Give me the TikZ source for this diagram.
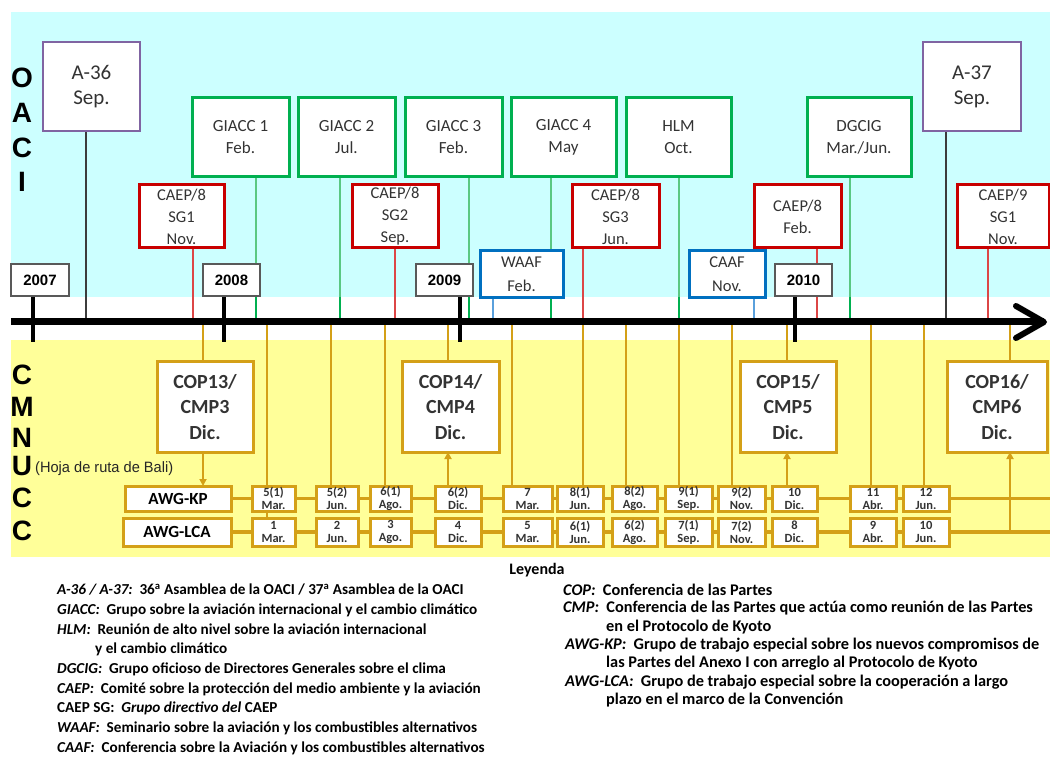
\documentclass[tikz,border=0pt]{standalone}
\usepackage{fontspec}
\setmainfont{Carlito}
\newfontfamily\arialf{Liberation Sans}
\usetikzlibrary{arrows.meta}
\definecolor{cyanbg}{RGB}{204,255,255}
\definecolor{yelbg}{RGB}{255,255,153}
\definecolor{purp}{RGB}{128,100,162}
\definecolor{grn}{RGB}{0,176,80}
\definecolor{lgrn}{RGB}{90,200,130}
\definecolor{rd}{RGB}{200,0,0}
\definecolor{lrd}{RGB}{220,70,70}
\definecolor{blu}{RGB}{0,112,192}
\definecolor{lblu}{RGB}{90,160,220}
\definecolor{lblk}{RGB}{60,60,60}
\definecolor{gold}{RGB}{212,160,23}
\pgfdeclarelayer{bg}
\pgfsetlayers{bg,main}
\tikzset{
 ev/.style={rectangle, fill=white, inner sep=1pt, outer sep=0pt, align=center, text=black!80},
 pbox/.style={ev, draw=purp, line width=2.5pt, font=\fontsize{21}{25}\selectfont},
 gbox/.style={ev, draw=grn, line width=3pt, font=\fontsize{17}{22}\selectfont},
 rbox/.style={ev, draw=rd, line width=3pt, font=\fontsize{16.5}{22}\selectfont},
 bbox/.style={ev, draw=blu, line width=3pt, font=\fontsize{16.5}{24}\selectfont},
 ybox/.style={ev, draw=black!65, line width=1.8pt, font=\arialf\bfseries\fontsize{15}{18}\selectfont, text=black},
 cbox/.style={ev, draw=gold, line width=3pt, font=\bfseries\fontsize{20}{25.5}\selectfont},
 abox/.style={ev, draw=gold, line width=3pt, font=\bfseries\fontsize{17}{20}\selectfont, text=black},
 sbox/.style={ev, draw=gold, line width=3pt, inner sep=0pt, font=\bfseries\fontsize{12.5}{13}\selectfont},
 big/.style={font=\arialf\bfseries\fontsize{28}{28}\selectfont, inner sep=0pt},
 legl/.style={anchor=west, inner sep=0pt, font=\bfseries\fontsize{15.2}{17}\selectfont},
 legr/.style={anchor=west, inner sep=0pt, font=\bfseries\fontsize{16.3}{18}\selectfont},
 leadln/.style={draw=#1, line width=1.3pt},
 tickmk/.style={draw=#1, line width=2.6pt},
 goldln/.style={draw=gold, line width=1.5pt},
 rowln/.style={draw=gold, line width=3.5pt},
 garrow/.style={draw=gold, line width=1.8pt, -{Triangle[length=7pt,width=7pt]}},
}
\newcommand\ebox[7]{\node[#1, anchor=north west, minimum width={#5-#3}, minimum height={#6-#4}] (#2) at (#3,#4) {#7};}
\begin{document}
\begin{tikzpicture}[x=1pt,y=-1pt]
\useasboundingbox (0,0) rectangle (1050,759);
\begin{pgfonlayer}{bg}
\fill[white] (0,0) rectangle (1050,759);
\fill[cyanbg] (11,12) rectangle (1050,297);
\fill[yelbg] (11,340) rectangle (1050,557);
\end{pgfonlayer}
% side letters
\foreach \l/\y [count=\i] in {O/78,A/113,C/148,I/182}
  \node[big] (oaci\i) at (22,\y) {\l};
\foreach \l/\y [count=\i] in {C/375,M/407,N/438,U/466,C/498,C/531}
  \node[big] (cm\i) at (22,\y) {\l};
\node[anchor=west, inner sep=0pt, font=\arialf\fontsize{15}{15}\selectfont, text=black!85] (bali) at (35,469) {\resizebox{138pt}{\height}{(Hoja de ruta de Bali)}};
% OACI boxes
\ebox{pbox}{a36}{43}{42}{140}{131}{A-36\\Sep.}
\ebox{pbox}{a37}{923}{42}{1021}{131}{A-37\\Sep.}
\ebox{gbox}{g1}{192}{98}{289}{177}{GIACC 1\\Feb.}
\ebox{gbox}{g2}{298}{98}{395}{177}{GIACC 2\\Jul.}
\ebox{gbox}{g3}{405}{98}{502}{177}{GIACC 3\\Feb.}
\ebox{gbox}{g4}{511}{98}{616}{177}{GIACC 4\\May}
\ebox{gbox}{hlm}{626}{98}{731}{177}{HLM\\Oct.}
\ebox{gbox}{dg}{807}{98}{911}{177}{DGCIG\\Mar./Jun.}
\ebox{rbox}{c1}{139}{185}{224}{248}{CAEP/8\\SG1\\Nov.}
\ebox{rbox}{c2}{352}{185}{438}{248}{CAEP/8\\SG2\\Sep.}
\ebox{rbox}{c3}{572}{185}{659}{248}{CAEP/8\\SG3\\Jun.}
\ebox{rbox}{c4}{754}{185}{841}{248}{CAEP/8\\Feb.}
\ebox{rbox}{c5}{957}{185}{1049}{248}{CAEP/9\\SG1\\Nov.}
\ebox{bbox}{waaf}{480}{251}{563}{298}{WAAF\\Feb.}
\ebox{bbox}{caaf}{689}{251}{765}{298}{CAAF\\Nov.}
\ebox{ybox}{y7}{11}{264}{69}{296}{2007}
\ebox{ybox}{y8}{203}{264}{260}{296}{2008}
\ebox{ybox}{y9}{416}{264}{473}{296}{2009}
\ebox{ybox}{y10}{775}{264}{832}{296}{2010}
% CMNUCC boxes
\ebox{cbox}{cop13}{157}{362}{253}{452}{COP13/\\CMP3\\Dic.}
\ebox{cbox}{cop14}{402}{362}{499}{452}{COP14/\\CMP4\\Dic.}
\ebox{cbox}{cop15}{740}{362}{836}{452}{COP15/\\CMP5\\Dic.}
\ebox{cbox}{cop16}{947}{362}{1047}{452}{COP16/\\CMP6\\Dic.}
\ebox{abox}{kp}{125}{486}{231}{511}{AWG-KP}
\ebox{abox}{lca}{123}{518}{231}{546}{AWG-LCA}
\foreach \a/\b/\t/\u/\m [count=\i] in {252/295/5(1)/1/Mar., 316/358/5(2)/2/Jun., 370/411/6(1)/3/Ago., 435/481/6(2)/4/Dic., 503/552/7/5/Mar., 557/603/8(1)/6(1)/Jun., 612/657/8(2)/6(2)/Ago., 665/712/9(1)/7(1)/Sep., 718/765/9(2)/7(2)/Nov., 772/817/10/8/Dic., 850/896/11/9/Abr., 903/949/12/10/Jun.}{
  \ebox{sbox}{k\i}{\a}{486}{\b}{511}{\t\\\m}
  \ebox{sbox}{l\i}{\a}{518}{\b}{546}{\u\\\m}
}
% leaders above the axis
\begin{pgfonlayer}{bg}
\foreach \n/\x/\c/\d in {a36/86/lblk/lblk, g1/256/lgrn/grn, g2/340/lgrn/grn, g3/469/lgrn/grn, g4/551/lgrn/grn, hlm/679/lgrn/grn, dg/850/lgrn/grn, a37/946/lblk/lblk, c1/193/lrd/lrd, c2/395/lrd/lrd, c3/583/lrd/lrd, c4/817/lrd/lrd, c5/988/lrd/lrd, waaf/493/lblu/lblu, caaf/754/lblu/lblu}{
  \draw[leadln=\c] (\n.south -| \x,0) -- (\x,297);
  \draw[tickmk=\d] (\x,297) -- (\x,319);
}
\foreach \n/\x in {y7/33, y8/224, y9/460, y10/795}
  \draw[black, line width=4pt] (\n.south -| \x,0) -- (\x,342);
% gold leaders below the axis
\foreach \n/\x in {cop13/203, l1/267, k2/331, k3/385, cop14/448, k5/512, k6/583, k7/626, k8/679, k9/732, cop15/787, k11/871, k12/924, cop16/1010}{
  \draw[tickmk=gold] (\x,324) -- (\x,340);
  \draw[goldln] (\x,340) -- (\n.north -| \x,0);
}
\draw[rowln] (kp.east) -- (1050,498.5);
\draw[rowln] (lca.east) -- (1050,532);
\end{pgfonlayer}
% axis
\coordinate (axL) at (11,322);
\coordinate (axR) at (1044,322);
\draw[black, line width=7pt] (axL) -- (axR);
\draw[black, line width=6pt, line join=round, line cap=round] (1016,306) -- (axR) -- (1016,338);
% arrows between CMNUCC boxes
\draw[garrow] (cop13.south -| 203,0) -- (kp.north -| 203,0);
\draw[garrow] (k4.north -| 448,0) -- (cop14.south -| 448,0);
\draw[garrow] (k10.north -| 787,0) -- (cop15.south -| 787,0);
\coordinate (lcaend) at (1010,532);
\draw[garrow] (lcaend) -- (cop16.south -| 1010,0);
% legend
\node[anchor=center, inner sep=0pt, font=\bfseries\fontsize{16}{18}\selectfont] (leyenda) at (537,570) {Leyenda};
\node[legl] (lg1) at (57,590) {\textit{A-36 / A-37:}\ \ 36\textsuperscript{a} Asamblea de la OACI / 37\textsuperscript{a} Asamblea de la OACI};
\node[legl] (lg2) at (57,610) {\textit{GIACC:}\ \ Grupo sobre la aviación internacional y el cambio climático};
\node[legl] (lg3) at (57,629.5) {\textit{HLM:}\ \ Reunión de alto nivel sobre la aviación internacional};
\node[legl] (lg4) at (95,649) {y el cambio climático};
\node[legl] (lg5) at (57,669) {\textit{DGCIG:}\ \ Grupo oficioso de Directores Generales sobre el clima};
\node[legl] (lg6) at (57,689) {\textit{CAEP:}\ \ Comité sobre la protección del medio ambiente y la aviación};
\node[legl] (lg7) at (57,708.5) {CAEP SG:\ \ \textit{Grupo directivo del} CAEP};
\node[legl] (lg8) at (57,728) {\textit{WAAF:}\ \ Seminario sobre la aviación y los combustibles alternativos};
\node[legl] (lg9) at (57,748) {\textit{CAAF:}\ \ Conferencia sobre la Aviación y los combustibles alternativos};
\node[legr] (lr1) at (563,590) {\textit{COP:}\ \ Conferencia de las Partes};
\node[legr] (lr2) at (563,608.3) {\textit{CMP:}\ \ Conferencia de las Partes que actúa como reunión de las Partes};
\node[legr] (lr3) at (606,626.7) {en el Protocolo de Kyoto};
\node[legr] (lr4) at (565,645) {\textit{AWG-KP:}\ \ Grupo de trabajo especial sobre los nuevos compromisos de};
\node[legr] (lr5) at (606,663.3) {las Partes del Anexo I con arreglo al Protocolo de Kyoto};
\node[legr] (lr6) at (565,681.7) {\textit{AWG-LCA:}\ \ Grupo de trabajo especial sobre la cooperación a largo};
\node[legr] (lr7) at (606,700) {plazo en el marco de la Convención};
\end{tikzpicture}
\end{document}
